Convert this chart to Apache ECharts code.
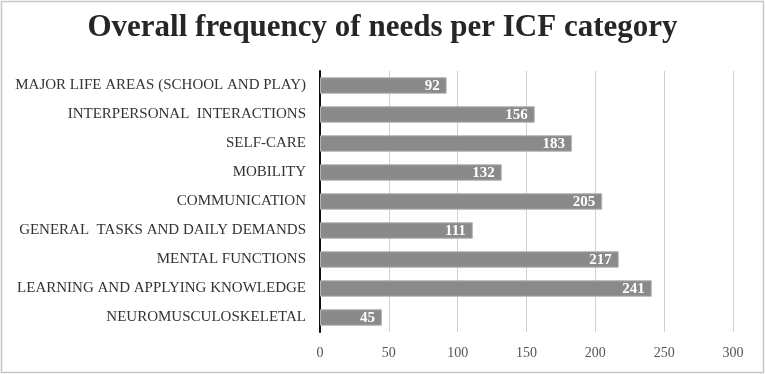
<!DOCTYPE html>
<html><head><meta charset="utf-8">
<script src="https://cdn.jsdelivr.net/npm/echarts@6/dist/echarts.min.js"></script>
<style>html,body{margin:0;padding:0;background:#fff}#c{width:765px;height:374px}</style>
</head><body><div id="c"></div>
<script>
const categories = ["MAJOR LIFE AREAS (SCHOOL AND PLAY)","INTERPERSONAL  INTERACTIONS","SELF-CARE","MOBILITY","COMMUNICATION","GENERAL  TASKS AND DAILY DEMANDS","MENTAL FUNCTIONS","LEARNING AND APPLYING KNOWLEDGE","NEUROMUSCULOSKELETAL"];
const values = [92,156,183,132,205,111,217,241,45];
const xTicks = [0,50,100,150,200,250,300];
const titleText = "Overall frequency of needs per ICF category";

const chart = echarts.init(document.getElementById('c'));
chart.setOption({
  animation:false,
  backgroundColor:'#fff',
  title:{text:titleText,left:'center',top:7,textStyle:{fontFamily:'Liberation Serif',fontWeight:'bold',fontSize:31,color:'#262626'}},
  graphic:[{type:'rect',shape:{x:1.5,y:1.5,width:762,height:371},style:{fill:'none',stroke:'#c8c8c8',lineWidth:1.5}}],
  grid:{left:320,right:32,top:71,bottom:42,containLabel:false},
  xAxis:{type:'value',min:xTicks[0],max:xTicks[xTicks.length-1],interval:50,
    axisLine:{show:false},axisTick:{show:false},
    splitLine:{show:true,lineStyle:{color:'#d0d0d0',width:1}},
    axisLabel:{fontFamily:'Liberation Serif',fontSize:14,color:'#555',margin:14}},
  yAxis:{type:'category',data:categories,inverse:true,
    axisLine:{show:true,lineStyle:{color:'#111',width:2}},axisTick:{show:false},
    axisLabel:{fontFamily:'Liberation Serif',fontSize:15,color:'#333',margin:14}},
  series:[{type:'bar',data:values,barWidth:'57%',
    itemStyle:{color:'#8a8a8a',borderColor:'#b5b5b5',borderWidth:1},
    label:{show:true,position:'insideRight',offset:[-2,1],color:'#fff',fontFamily:'Liberation Serif',fontWeight:'bold',fontSize:15}}]
});
</script></body></html>
